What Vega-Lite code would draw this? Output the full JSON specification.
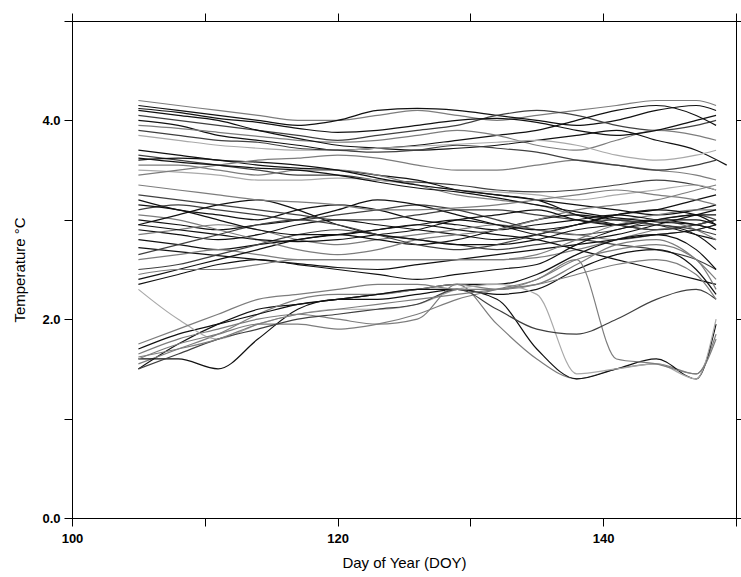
{
"$schema": "https://vega.github.io/schema/vega-lite/v6.json",
"width": 664, "height": 497,
"autosize": "none",
"padding": {"left": 72, "top": 21, "right": 5, "bottom": 59},
"background": "white",
"config": {"view": {"stroke": "black", "strokeWidth": 1},
 "axis": {"domainColor": "black", "tickColor": "black", "labelFont": "Liberation Sans", "labelFontWeight": "bold", "labelFontSize": 13, "labelColor": "black", "labelFlush": false, "titleFont": "Liberation Sans", "titleFontWeight": "normal", "titleFontSize": 15, "titleColor": "black", "grid": false, "tickSize": 8}},
"datasets": {"temps": [
{"s":1,"d":105,"t":4.2},{"s":1,"d":108,"t":4.15},{"s":1,"d":111,"t":4.1},{"s":1,"d":114,"t":4.05},{"s":1,"d":117,"t":4.0},{"s":1,"d":120,"t":4.0},{"s":1,"d":123,"t":4.05},{"s":1,"d":126,"t":4.1},{"s":1,"d":129,"t":4.05},{"s":1,"d":132,"t":4.0},{"s":1,"d":135,"t":4.05},{"s":1,"d":138,"t":4.1},{"s":1,"d":141,"t":4.15},{"s":1,"d":144,"t":4.2},{"s":1,"d":147,"t":4.2},{"s":1,"d":148.5,"t":4.15},
{"s":2,"d":105,"t":4.15},{"s":2,"d":108,"t":4.1},{"s":2,"d":111,"t":4.05},{"s":2,"d":114,"t":4.0},{"s":2,"d":117,"t":3.95},{"s":2,"d":120,"t":4.0},{"s":2,"d":123,"t":4.1},{"s":2,"d":126,"t":4.12},{"s":2,"d":129,"t":4.1},{"s":2,"d":132,"t":4.05},{"s":2,"d":135,"t":4.0},{"s":2,"d":138,"t":3.95},{"s":2,"d":141,"t":4.0},{"s":2,"d":144,"t":4.1},{"s":2,"d":147,"t":4.15},{"s":2,"d":148.5,"t":4.1},
{"s":3,"d":105,"t":4.05},{"s":3,"d":108,"t":4.0},{"s":3,"d":111,"t":3.95},{"s":3,"d":114,"t":3.9},{"s":3,"d":117,"t":3.85},{"s":3,"d":120,"t":3.8},{"s":3,"d":123,"t":3.85},{"s":3,"d":126,"t":3.9},{"s":3,"d":129,"t":3.95},{"s":3,"d":132,"t":4.05},{"s":3,"d":135,"t":4.1},{"s":3,"d":138,"t":4.05},{"s":3,"d":141,"t":3.95},{"s":3,"d":144,"t":3.9},{"s":3,"d":147,"t":3.95},{"s":3,"d":148.5,"t":4.0},
{"s":4,"d":105,"t":4.0},{"s":4,"d":108,"t":3.95},{"s":4,"d":111,"t":3.85},{"s":4,"d":114,"t":3.8},{"s":4,"d":117,"t":3.75},{"s":4,"d":120,"t":3.7},{"s":4,"d":123,"t":3.72},{"s":4,"d":126,"t":3.75},{"s":4,"d":129,"t":3.8},{"s":4,"d":132,"t":3.85},{"s":4,"d":135,"t":3.9},{"s":4,"d":138,"t":4.0},{"s":4,"d":141,"t":4.1},{"s":4,"d":144,"t":4.15},{"s":4,"d":147,"t":4.05},{"s":4,"d":148.5,"t":3.95},
{"s":5,"d":105,"t":3.95},{"s":5,"d":108,"t":3.92},{"s":5,"d":111,"t":3.88},{"s":5,"d":114,"t":3.84},{"s":5,"d":117,"t":3.8},{"s":5,"d":120,"t":3.78},{"s":5,"d":123,"t":3.8},{"s":5,"d":126,"t":3.85},{"s":5,"d":129,"t":3.9},{"s":5,"d":132,"t":3.85},{"s":5,"d":135,"t":3.75},{"s":5,"d":138,"t":3.7},{"s":5,"d":141,"t":3.8},{"s":5,"d":144,"t":3.9},{"s":5,"d":147,"t":3.85},{"s":5,"d":148.5,"t":3.8},
{"s":6,"d":105,"t":4.1},{"s":6,"d":108,"t":4.05},{"s":6,"d":111,"t":4.0},{"s":6,"d":114,"t":3.9},{"s":6,"d":117,"t":3.82},{"s":6,"d":120,"t":3.75},{"s":6,"d":123,"t":3.72},{"s":6,"d":126,"t":3.7},{"s":6,"d":129,"t":3.72},{"s":6,"d":132,"t":3.75},{"s":6,"d":135,"t":3.8},{"s":6,"d":138,"t":3.85},{"s":6,"d":141,"t":3.9},{"s":6,"d":144,"t":3.8},{"s":6,"d":147,"t":3.7},{"s":6,"d":149.3,"t":3.55},
{"s":7,"d":105,"t":3.85},{"s":7,"d":108,"t":3.8},{"s":7,"d":111,"t":3.75},{"s":7,"d":114,"t":3.72},{"s":7,"d":117,"t":3.7},{"s":7,"d":120,"t":3.7},{"s":7,"d":123,"t":3.72},{"s":7,"d":126,"t":3.74},{"s":7,"d":129,"t":3.76},{"s":7,"d":132,"t":3.78},{"s":7,"d":135,"t":3.8},{"s":7,"d":138,"t":3.75},{"s":7,"d":141,"t":3.65},{"s":7,"d":144,"t":3.6},{"s":7,"d":147,"t":3.65},{"s":7,"d":148.5,"t":3.7},
{"s":8,"d":105,"t":3.65},{"s":8,"d":108,"t":3.6},{"s":8,"d":111,"t":3.55},{"s":8,"d":114,"t":3.5},{"s":8,"d":117,"t":3.45},{"s":8,"d":120,"t":3.45},{"s":8,"d":123,"t":3.4},{"s":8,"d":126,"t":3.38},{"s":8,"d":129,"t":3.35},{"s":8,"d":132,"t":3.3},{"s":8,"d":135,"t":3.28},{"s":8,"d":138,"t":3.3},{"s":8,"d":141,"t":3.35},{"s":8,"d":144,"t":3.4},{"s":8,"d":147,"t":3.35},{"s":8,"d":148.5,"t":3.3},
{"s":9,"d":105,"t":3.6},{"s":9,"d":108,"t":3.62},{"s":9,"d":111,"t":3.6},{"s":9,"d":114,"t":3.55},{"s":9,"d":117,"t":3.52},{"s":9,"d":120,"t":3.5},{"s":9,"d":123,"t":3.45},{"s":9,"d":126,"t":3.4},{"s":9,"d":129,"t":3.3},{"s":9,"d":132,"t":3.25},{"s":9,"d":135,"t":3.2},{"s":9,"d":138,"t":3.15},{"s":9,"d":141,"t":3.1},{"s":9,"d":144,"t":3.05},{"s":9,"d":147,"t":3.1},{"s":9,"d":148.5,"t":3.15},
{"s":10,"d":105,"t":3.55},{"s":10,"d":108,"t":3.55},{"s":10,"d":111,"t":3.5},{"s":10,"d":114,"t":3.45},{"s":10,"d":117,"t":3.5},{"s":10,"d":120,"t":3.5},{"s":10,"d":123,"t":3.45},{"s":10,"d":126,"t":3.35},{"s":10,"d":129,"t":3.25},{"s":10,"d":132,"t":3.2},{"s":10,"d":135,"t":3.15},{"s":10,"d":138,"t":3.05},{"s":10,"d":141,"t":3.0},{"s":10,"d":144,"t":3.05},{"s":10,"d":147,"t":3.1},{"s":10,"d":148.5,"t":3.1},
{"s":11,"d":105,"t":3.5},{"s":11,"d":108,"t":3.48},{"s":11,"d":111,"t":3.45},{"s":11,"d":114,"t":3.4},{"s":11,"d":117,"t":3.4},{"s":11,"d":120,"t":3.42},{"s":11,"d":123,"t":3.4},{"s":11,"d":126,"t":3.35},{"s":11,"d":129,"t":3.3},{"s":11,"d":132,"t":3.28},{"s":11,"d":135,"t":3.25},{"s":11,"d":138,"t":3.2},{"s":11,"d":141,"t":3.25},{"s":11,"d":144,"t":3.3},{"s":11,"d":147,"t":3.35},{"s":11,"d":148.5,"t":3.3},
{"s":12,"d":105,"t":3.7},{"s":12,"d":108,"t":3.65},{"s":12,"d":111,"t":3.6},{"s":12,"d":114,"t":3.58},{"s":12,"d":117,"t":3.55},{"s":12,"d":120,"t":3.5},{"s":12,"d":123,"t":3.42},{"s":12,"d":126,"t":3.35},{"s":12,"d":129,"t":3.3},{"s":12,"d":132,"t":3.25},{"s":12,"d":135,"t":3.2},{"s":12,"d":138,"t":3.05},{"s":12,"d":141,"t":2.95},{"s":12,"d":144,"t":2.9},{"s":12,"d":147,"t":2.95},{"s":12,"d":148.5,"t":3.0},
{"s":13,"d":105,"t":3.45},{"s":13,"d":108,"t":3.5},{"s":13,"d":111,"t":3.55},{"s":13,"d":114,"t":3.6},{"s":13,"d":117,"t":3.62},{"s":13,"d":120,"t":3.65},{"s":13,"d":123,"t":3.62},{"s":13,"d":126,"t":3.55},{"s":13,"d":129,"t":3.5},{"s":13,"d":132,"t":3.5},{"s":13,"d":135,"t":3.55},{"s":13,"d":138,"t":3.6},{"s":13,"d":141,"t":3.55},{"s":13,"d":144,"t":3.5},{"s":13,"d":147,"t":3.45},{"s":13,"d":148.5,"t":3.4},
{"s":14,"d":105,"t":3.2},{"s":14,"d":108,"t":3.1},{"s":14,"d":111,"t":3.05},{"s":14,"d":114,"t":3.0},{"s":14,"d":117,"t":3.1},{"s":14,"d":120,"t":3.15},{"s":14,"d":123,"t":3.1},{"s":14,"d":126,"t":3.0},{"s":14,"d":129,"t":2.95},{"s":14,"d":132,"t":2.9},{"s":14,"d":135,"t":2.95},{"s":14,"d":138,"t":3.0},{"s":14,"d":141,"t":3.05},{"s":14,"d":144,"t":3.0},{"s":14,"d":147,"t":2.95},{"s":14,"d":148.5,"t":2.9},
{"s":15,"d":105,"t":3.1},{"s":15,"d":108,"t":3.15},{"s":15,"d":111,"t":3.1},{"s":15,"d":114,"t":3.05},{"s":15,"d":117,"t":3.0},{"s":15,"d":120,"t":3.05},{"s":15,"d":123,"t":3.1},{"s":15,"d":126,"t":3.15},{"s":15,"d":129,"t":3.1},{"s":15,"d":132,"t":3.0},{"s":15,"d":135,"t":2.9},{"s":15,"d":138,"t":2.85},{"s":15,"d":141,"t":2.9},{"s":15,"d":144,"t":3.0},{"s":15,"d":147,"t":3.05},{"s":15,"d":148.5,"t":3.0},
{"s":16,"d":105,"t":3.0},{"s":16,"d":108,"t":2.95},{"s":16,"d":111,"t":2.9},{"s":16,"d":114,"t":2.95},{"s":16,"d":117,"t":3.0},{"s":16,"d":120,"t":3.1},{"s":16,"d":123,"t":3.2},{"s":16,"d":126,"t":3.15},{"s":16,"d":129,"t":3.05},{"s":16,"d":132,"t":2.95},{"s":16,"d":135,"t":2.85},{"s":16,"d":138,"t":2.8},{"s":16,"d":141,"t":2.85},{"s":16,"d":144,"t":2.95},{"s":16,"d":147,"t":3.05},{"s":16,"d":148.5,"t":3.1},
{"s":17,"d":105,"t":2.9},{"s":17,"d":108,"t":2.85},{"s":17,"d":111,"t":2.8},{"s":17,"d":114,"t":2.85},{"s":17,"d":117,"t":2.95},{"s":17,"d":120,"t":3.0},{"s":17,"d":123,"t":2.95},{"s":17,"d":126,"t":2.9},{"s":17,"d":129,"t":2.85},{"s":17,"d":132,"t":2.8},{"s":17,"d":135,"t":2.85},{"s":17,"d":138,"t":2.95},{"s":17,"d":141,"t":3.05},{"s":17,"d":144,"t":3.1},{"s":17,"d":147,"t":3.2},{"s":17,"d":148.5,"t":3.25},
{"s":18,"d":105,"t":2.85},{"s":18,"d":108,"t":2.9},{"s":18,"d":111,"t":2.95},{"s":18,"d":114,"t":2.9},{"s":18,"d":117,"t":2.8},{"s":18,"d":120,"t":2.75},{"s":18,"d":123,"t":2.8},{"s":18,"d":126,"t":2.85},{"s":18,"d":129,"t":2.9},{"s":18,"d":132,"t":2.95},{"s":18,"d":135,"t":2.9},{"s":18,"d":138,"t":2.85},{"s":18,"d":141,"t":2.8},{"s":18,"d":144,"t":2.85},{"s":18,"d":147,"t":2.9},{"s":18,"d":148.5,"t":2.95},
{"s":19,"d":105,"t":2.8},{"s":19,"d":108,"t":2.75},{"s":19,"d":111,"t":2.7},{"s":19,"d":114,"t":2.75},{"s":19,"d":117,"t":2.8},{"s":19,"d":120,"t":2.85},{"s":19,"d":123,"t":2.8},{"s":19,"d":126,"t":2.75},{"s":19,"d":129,"t":2.8},{"s":19,"d":132,"t":2.9},{"s":19,"d":135,"t":3.0},{"s":19,"d":138,"t":3.05},{"s":19,"d":141,"t":3.0},{"s":19,"d":144,"t":2.95},{"s":19,"d":147,"t":2.85},{"s":19,"d":148.5,"t":2.8},
{"s":20,"d":105,"t":2.72},{"s":20,"d":108,"t":2.68},{"s":20,"d":111,"t":2.64},{"s":20,"d":114,"t":2.6},{"s":20,"d":117,"t":2.56},{"s":20,"d":120,"t":2.52},{"s":20,"d":123,"t":2.5},{"s":20,"d":126,"t":2.55},{"s":20,"d":129,"t":2.6},{"s":20,"d":132,"t":2.65},{"s":20,"d":135,"t":2.7},{"s":20,"d":138,"t":2.75},{"s":20,"d":141,"t":2.8},{"s":20,"d":144,"t":2.85},{"s":20,"d":147,"t":2.9},{"s":20,"d":148.5,"t":2.95},
{"s":21,"d":105,"t":2.6},{"s":21,"d":108,"t":2.65},{"s":21,"d":111,"t":2.7},{"s":21,"d":114,"t":2.65},{"s":21,"d":117,"t":2.6},{"s":21,"d":120,"t":2.6},{"s":21,"d":123,"t":2.6},{"s":21,"d":126,"t":2.6},{"s":21,"d":129,"t":2.6},{"s":21,"d":132,"t":2.6},{"s":21,"d":135,"t":2.62},{"s":21,"d":138,"t":2.7},{"s":21,"d":141,"t":2.8},{"s":21,"d":144,"t":2.9},{"s":21,"d":147,"t":2.95},{"s":21,"d":148.5,"t":3.0},
{"s":22,"d":105,"t":2.5},{"s":22,"d":108,"t":2.55},{"s":22,"d":111,"t":2.65},{"s":22,"d":114,"t":2.75},{"s":22,"d":117,"t":2.85},{"s":22,"d":120,"t":2.9},{"s":22,"d":123,"t":2.85},{"s":22,"d":126,"t":2.8},{"s":22,"d":129,"t":2.75},{"s":22,"d":132,"t":2.7},{"s":22,"d":135,"t":2.75},{"s":22,"d":138,"t":2.8},{"s":22,"d":141,"t":2.75},{"s":22,"d":144,"t":2.7},{"s":22,"d":147,"t":2.6},{"s":22,"d":148.5,"t":2.5},
{"s":23,"d":105,"t":2.4},{"s":23,"d":108,"t":2.5},{"s":23,"d":111,"t":2.6},{"s":23,"d":114,"t":2.7},{"s":23,"d":117,"t":2.8},{"s":23,"d":120,"t":2.85},{"s":23,"d":123,"t":2.9},{"s":23,"d":126,"t":2.95},{"s":23,"d":129,"t":2.9},{"s":23,"d":132,"t":2.85},{"s":23,"d":135,"t":2.8},{"s":23,"d":138,"t":2.7},{"s":23,"d":141,"t":2.6},{"s":23,"d":144,"t":2.5},{"s":23,"d":147,"t":2.4},{"s":23,"d":148.5,"t":2.35},
{"s":24,"d":105,"t":3.05},{"s":24,"d":108,"t":3.0},{"s":24,"d":111,"t":2.9},{"s":24,"d":114,"t":2.8},{"s":24,"d":117,"t":2.7},{"s":24,"d":120,"t":2.65},{"s":24,"d":123,"t":2.7},{"s":24,"d":126,"t":2.8},{"s":24,"d":129,"t":2.85},{"s":24,"d":132,"t":2.9},{"s":24,"d":135,"t":3.0},{"s":24,"d":138,"t":3.1},{"s":24,"d":141,"t":3.15},{"s":24,"d":144,"t":3.2},{"s":24,"d":147,"t":3.3},{"s":24,"d":148.5,"t":3.35},
{"s":25,"d":105,"t":2.95},{"s":25,"d":108,"t":3.05},{"s":25,"d":111,"t":3.15},{"s":25,"d":114,"t":3.2},{"s":25,"d":117,"t":3.1},{"s":25,"d":120,"t":2.95},{"s":25,"d":123,"t":2.85},{"s":25,"d":126,"t":2.8},{"s":25,"d":129,"t":2.75},{"s":25,"d":132,"t":2.75},{"s":25,"d":135,"t":2.8},{"s":25,"d":138,"t":2.9},{"s":25,"d":141,"t":2.95},{"s":25,"d":144,"t":3.0},{"s":25,"d":147,"t":3.0},{"s":25,"d":148.5,"t":2.95},
{"s":26,"d":105,"t":3.25},{"s":26,"d":108,"t":3.2},{"s":26,"d":111,"t":3.15},{"s":26,"d":114,"t":3.1},{"s":26,"d":117,"t":3.05},{"s":26,"d":120,"t":3.0},{"s":26,"d":123,"t":3.0},{"s":26,"d":126,"t":3.05},{"s":26,"d":129,"t":3.1},{"s":26,"d":132,"t":3.1},{"s":26,"d":135,"t":3.05},{"s":26,"d":138,"t":3.0},{"s":26,"d":141,"t":2.95},{"s":26,"d":144,"t":2.9},{"s":26,"d":147,"t":2.95},{"s":26,"d":148.5,"t":3.0},
{"s":27,"d":105,"t":1.5},{"s":27,"d":108,"t":1.75},{"s":27,"d":111,"t":1.95},{"s":27,"d":114,"t":2.1},{"s":27,"d":117,"t":2.15},{"s":27,"d":120,"t":2.2},{"s":27,"d":123,"t":2.25},{"s":27,"d":126,"t":2.3},{"s":27,"d":129,"t":2.35},{"s":27,"d":132,"t":2.35},{"s":27,"d":135,"t":2.45},{"s":27,"d":138,"t":2.65},{"s":27,"d":141,"t":2.8},{"s":27,"d":144,"t":2.85},{"s":27,"d":147,"t":2.7},{"s":27,"d":148.5,"t":2.5},
{"s":28,"d":105,"t":1.55},{"s":28,"d":108,"t":1.7},{"s":28,"d":111,"t":1.85},{"s":28,"d":114,"t":2.05},{"s":28,"d":117,"t":2.2},{"s":28,"d":120,"t":2.25},{"s":28,"d":123,"t":2.25},{"s":28,"d":126,"t":2.3},{"s":28,"d":129,"t":2.35},{"s":28,"d":132,"t":2.3},{"s":28,"d":135,"t":2.35},{"s":28,"d":138,"t":2.55},{"s":28,"d":141,"t":2.75},{"s":28,"d":144,"t":2.8},{"s":28,"d":147,"t":2.6},{"s":28,"d":148.5,"t":2.4},
{"s":29,"d":105,"t":1.6},{"s":29,"d":108,"t":1.6},{"s":29,"d":111,"t":1.5},{"s":29,"d":114,"t":1.8},{"s":29,"d":117,"t":2.1},{"s":29,"d":120,"t":2.2},{"s":29,"d":123,"t":2.2},{"s":29,"d":126,"t":2.25},{"s":29,"d":129,"t":2.3},{"s":29,"d":132,"t":2.25},{"s":29,"d":135,"t":2.3},{"s":29,"d":138,"t":2.5},{"s":29,"d":141,"t":2.65},{"s":29,"d":144,"t":2.7},{"s":29,"d":147,"t":2.5},{"s":29,"d":148.5,"t":2.25},
{"s":30,"d":105,"t":1.65},{"s":30,"d":108,"t":1.8},{"s":30,"d":111,"t":1.9},{"s":30,"d":114,"t":2.0},{"s":30,"d":117,"t":2.05},{"s":30,"d":120,"t":2.0},{"s":30,"d":123,"t":1.95},{"s":30,"d":126,"t":2.0},{"s":30,"d":129,"t":2.35},{"s":30,"d":132,"t":1.95},{"s":30,"d":135,"t":1.6},{"s":30,"d":138,"t":1.4},{"s":30,"d":141,"t":1.5},{"s":30,"d":144,"t":1.55},{"s":30,"d":147,"t":1.45},{"s":30,"d":148.5,"t":1.85},
{"s":31,"d":105,"t":1.7},{"s":31,"d":108,"t":1.85},{"s":31,"d":111,"t":1.95},{"s":31,"d":114,"t":2.05},{"s":31,"d":117,"t":2.15},{"s":31,"d":120,"t":2.2},{"s":31,"d":123,"t":2.25},{"s":31,"d":126,"t":2.3},{"s":31,"d":129,"t":2.3},{"s":31,"d":132,"t":2.2},{"s":31,"d":135,"t":1.7},{"s":31,"d":138,"t":1.4},{"s":31,"d":141,"t":1.5},{"s":31,"d":144,"t":1.6},{"s":31,"d":147,"t":1.4},{"s":31,"d":148.5,"t":1.95},
{"s":32,"d":105,"t":2.3},{"s":32,"d":108,"t":2.0},{"s":32,"d":111,"t":1.8},{"s":32,"d":114,"t":1.95},{"s":32,"d":117,"t":2.05},{"s":32,"d":120,"t":2.1},{"s":32,"d":123,"t":2.1},{"s":32,"d":126,"t":2.15},{"s":32,"d":129,"t":2.3},{"s":32,"d":132,"t":2.35},{"s":32,"d":135,"t":2.25},{"s":32,"d":138,"t":1.45},{"s":32,"d":141,"t":1.5},{"s":32,"d":144,"t":1.55},{"s":32,"d":147,"t":1.4},{"s":32,"d":148.5,"t":2.0},
{"s":33,"d":105,"t":1.6},{"s":33,"d":108,"t":1.75},{"s":33,"d":111,"t":1.85},{"s":33,"d":114,"t":1.95},{"s":33,"d":117,"t":1.95},{"s":33,"d":120,"t":1.9},{"s":33,"d":123,"t":1.95},{"s":33,"d":126,"t":2.05},{"s":33,"d":129,"t":2.2},{"s":33,"d":132,"t":2.3},{"s":33,"d":135,"t":2.4},{"s":33,"d":138,"t":2.6},{"s":33,"d":141,"t":1.6},{"s":33,"d":144,"t":1.55},{"s":33,"d":147,"t":1.45},{"s":33,"d":148.5,"t":1.8},
{"s":34,"d":105,"t":1.5},{"s":34,"d":108,"t":1.65},{"s":34,"d":111,"t":1.8},{"s":34,"d":114,"t":1.9},{"s":34,"d":117,"t":2.0},{"s":34,"d":120,"t":2.05},{"s":34,"d":123,"t":2.1},{"s":34,"d":126,"t":2.15},{"s":34,"d":129,"t":2.3},{"s":34,"d":132,"t":2.1},{"s":34,"d":135,"t":1.9},{"s":34,"d":138,"t":1.85},{"s":34,"d":141,"t":2.0},{"s":34,"d":144,"t":2.2},{"s":34,"d":147,"t":2.3},{"s":34,"d":148.5,"t":2.2},
{"s":35,"d":105,"t":1.75},{"s":35,"d":108,"t":1.9},{"s":35,"d":111,"t":2.05},{"s":35,"d":114,"t":2.2},{"s":35,"d":117,"t":2.25},{"s":35,"d":120,"t":2.3},{"s":35,"d":123,"t":2.35},{"s":35,"d":126,"t":2.35},{"s":35,"d":129,"t":2.3},{"s":35,"d":132,"t":2.3},{"s":35,"d":135,"t":2.4},{"s":35,"d":138,"t":2.6},{"s":35,"d":141,"t":2.7},{"s":35,"d":144,"t":2.75},{"s":35,"d":147,"t":2.6},{"s":35,"d":148.5,"t":2.3},
{"s":36,"d":105,"t":2.35},{"s":36,"d":108,"t":2.45},{"s":36,"d":111,"t":2.55},{"s":36,"d":114,"t":2.6},{"s":36,"d":117,"t":2.55},{"s":36,"d":120,"t":2.5},{"s":36,"d":123,"t":2.45},{"s":36,"d":126,"t":2.4},{"s":36,"d":129,"t":2.45},{"s":36,"d":132,"t":2.5},{"s":36,"d":135,"t":2.55},{"s":36,"d":138,"t":2.75},{"s":36,"d":141,"t":2.9},{"s":36,"d":144,"t":2.95},{"s":36,"d":147,"t":2.85},{"s":36,"d":148.5,"t":2.7},
{"s":37,"d":105,"t":2.45},{"s":37,"d":108,"t":2.5},{"s":37,"d":111,"t":2.5},{"s":37,"d":114,"t":2.55},{"s":37,"d":117,"t":2.6},{"s":37,"d":120,"t":2.6},{"s":37,"d":123,"t":2.6},{"s":37,"d":126,"t":2.6},{"s":37,"d":129,"t":2.6},{"s":37,"d":132,"t":2.6},{"s":37,"d":135,"t":2.65},{"s":37,"d":138,"t":2.8},{"s":37,"d":141,"t":2.95},{"s":37,"d":144,"t":3.0},{"s":37,"d":147,"t":2.9},{"s":37,"d":148.5,"t":2.8},
{"s":38,"d":105,"t":4.12},{"s":38,"d":108,"t":4.08},{"s":38,"d":111,"t":4.02},{"s":38,"d":114,"t":3.98},{"s":38,"d":117,"t":3.92},{"s":38,"d":120,"t":3.88},{"s":38,"d":123,"t":3.9},{"s":38,"d":126,"t":3.95},{"s":38,"d":129,"t":4.0},{"s":38,"d":132,"t":4.02},{"s":38,"d":135,"t":3.98},{"s":38,"d":138,"t":3.9},{"s":38,"d":141,"t":3.85},{"s":38,"d":144,"t":3.9},{"s":38,"d":147,"t":4.0},{"s":38,"d":148.5,"t":4.05},
{"s":39,"d":105,"t":3.9},{"s":39,"d":108,"t":3.85},{"s":39,"d":111,"t":3.8},{"s":39,"d":114,"t":3.78},{"s":39,"d":117,"t":3.72},{"s":39,"d":120,"t":3.7},{"s":39,"d":123,"t":3.68},{"s":39,"d":126,"t":3.7},{"s":39,"d":129,"t":3.75},{"s":39,"d":132,"t":3.72},{"s":39,"d":135,"t":3.68},{"s":39,"d":138,"t":3.6},{"s":39,"d":141,"t":3.55},{"s":39,"d":144,"t":3.5},{"s":39,"d":147,"t":3.55},{"s":39,"d":148.5,"t":3.6},
{"s":40,"d":105,"t":3.62},{"s":40,"d":108,"t":3.58},{"s":40,"d":111,"t":3.55},{"s":40,"d":114,"t":3.52},{"s":40,"d":117,"t":3.5},{"s":40,"d":120,"t":3.45},{"s":40,"d":123,"t":3.38},{"s":40,"d":126,"t":3.32},{"s":40,"d":129,"t":3.28},{"s":40,"d":132,"t":3.22},{"s":40,"d":135,"t":3.15},{"s":40,"d":138,"t":3.08},{"s":40,"d":141,"t":3.02},{"s":40,"d":144,"t":2.98},{"s":40,"d":147,"t":2.95},{"s":40,"d":148.5,"t":2.9},
{"s":41,"d":105,"t":3.35},{"s":41,"d":108,"t":3.3},{"s":41,"d":111,"t":3.25},{"s":41,"d":114,"t":3.2},{"s":41,"d":117,"t":3.18},{"s":41,"d":120,"t":3.15},{"s":41,"d":123,"t":3.1},{"s":41,"d":126,"t":3.1},{"s":41,"d":129,"t":3.12},{"s":41,"d":132,"t":3.15},{"s":41,"d":135,"t":3.2},{"s":41,"d":138,"t":3.25},{"s":41,"d":141,"t":3.3},{"s":41,"d":144,"t":3.25},{"s":41,"d":147,"t":3.2},{"s":41,"d":148.5,"t":3.15},
{"s":42,"d":105,"t":2.95},{"s":42,"d":108,"t":2.9},{"s":42,"d":111,"t":2.85},{"s":42,"d":114,"t":2.8},{"s":42,"d":117,"t":2.78},{"s":42,"d":120,"t":2.8},{"s":42,"d":123,"t":2.85},{"s":42,"d":126,"t":2.9},{"s":42,"d":129,"t":3.0},{"s":42,"d":132,"t":3.05},{"s":42,"d":135,"t":3.1},{"s":42,"d":138,"t":3.0},{"s":42,"d":141,"t":2.95},{"s":42,"d":144,"t":3.0},{"s":42,"d":147,"t":3.05},{"s":42,"d":148.5,"t":3.05},
{"s":43,"d":105,"t":2.65},{"s":43,"d":108,"t":2.75},{"s":43,"d":111,"t":2.85},{"s":43,"d":114,"t":2.95},{"s":43,"d":117,"t":3.0},{"s":43,"d":120,"t":2.95},{"s":43,"d":123,"t":2.85},{"s":43,"d":126,"t":2.75},{"s":43,"d":129,"t":2.7},{"s":43,"d":132,"t":2.75},{"s":43,"d":135,"t":2.85},{"s":43,"d":138,"t":2.95},{"s":43,"d":141,"t":3.0},{"s":43,"d":144,"t":2.95},{"s":43,"d":147,"t":2.9},{"s":43,"d":148.5,"t":2.85},
{"s":44,"d":105,"t":3.15},{"s":44,"d":108,"t":3.1},{"s":44,"d":111,"t":3.0},{"s":44,"d":114,"t":2.9},{"s":44,"d":117,"t":2.85},{"s":44,"d":120,"t":2.85},{"s":44,"d":123,"t":2.9},{"s":44,"d":126,"t":2.95},{"s":44,"d":129,"t":3.0},{"s":44,"d":132,"t":2.95},{"s":44,"d":135,"t":2.9},{"s":44,"d":138,"t":2.95},{"s":44,"d":141,"t":3.05},{"s":44,"d":144,"t":3.1},{"s":44,"d":147,"t":3.05},{"s":44,"d":148.5,"t":2.95},
{"s":45,"d":105,"t":1.62},{"s":45,"d":108,"t":1.7},{"s":45,"d":111,"t":1.8},{"s":45,"d":114,"t":1.95},{"s":45,"d":117,"t":2.05},{"s":45,"d":120,"t":2.1},{"s":45,"d":123,"t":2.15},{"s":45,"d":126,"t":2.2},{"s":45,"d":129,"t":2.25},{"s":45,"d":132,"t":2.3},{"s":45,"d":135,"t":2.35},{"s":45,"d":138,"t":2.45},{"s":45,"d":141,"t":2.55},{"s":45,"d":144,"t":2.6},{"s":45,"d":147,"t":2.45},{"s":45,"d":148.5,"t":2.2}
]},
"data": {"name": "temps"},
"resolve": {"axis": {"x": "independent", "y": "independent"}},
"layer": [
 {"mark": {"type": "line", "strokeWidth": 1.2, "interpolate": "monotone"},
  "encoding": {
   "x": {"field": "d", "type": "quantitative", "scale": {"domain": [100, 150], "nice": false, "zero": false},
    "axis": {"values": [100, 110, 120, 130, 140, 150], "format": "d", "labelExpr": "datum.value % 20 == 0 ? datum.label : ''", "title": "Day of Year (DOY)", "labelPadding": 6, "titlePadding": 10}},
   "y": {"field": "t", "type": "quantitative", "scale": {"domain": [0, 5], "nice": false},
    "axis": {"values": [0, 1, 2, 3, 4, 5], "format": ".1f", "labelExpr": "datum.value % 2 == 0 ? datum.label : ''", "title": "Temperature °C", "labelPadding": 4, "titlePadding": 14}},
   "color": {"field": "s", "type": "nominal", "legend": null,
    "scale": {"domain": [1,2,3,4,5,6,7,8,9,10,11,12,13,14,15,16,17,18,19,20,21,22,23,24,25,26,27,28,29,30,31,32,33,34,35,36,37,38,39,40,41,42,43,44,45],
     "range": ["#7d7d7d","#111111","#404040","#111111","#7d7d7d","#111111","#a9a9a9","#404040","#111111","#7d7d7d","#a9a9a9","#111111","#7d7d7d","#111111","#404040","#111111","#111111","#7d7d7d","#111111","#111111","#7d7d7d","#404040","#111111","#7d7d7d","#111111","#404040","#111111","#7d7d7d","#111111","#7d7d7d","#111111","#a9a9a9","#7d7d7d","#404040","#7d7d7d","#111111","#7d7d7d","#111111","#404040","#111111","#7d7d7d","#111111","#404040","#111111","#7d7d7d"]}}
  }},
 {"mark": {"type": "point", "opacity": 0},
  "encoding": {
   "x": {"field": "d", "type": "quantitative", "axis": {"orient": "top", "values": [100, 110, 120, 130, 140, 150], "labels": false, "title": null}},
   "y": {"field": "t", "type": "quantitative", "axis": {"orient": "right", "values": [0, 1, 2, 3, 4, 5], "labels": false, "title": null}}
  }}
]
}
